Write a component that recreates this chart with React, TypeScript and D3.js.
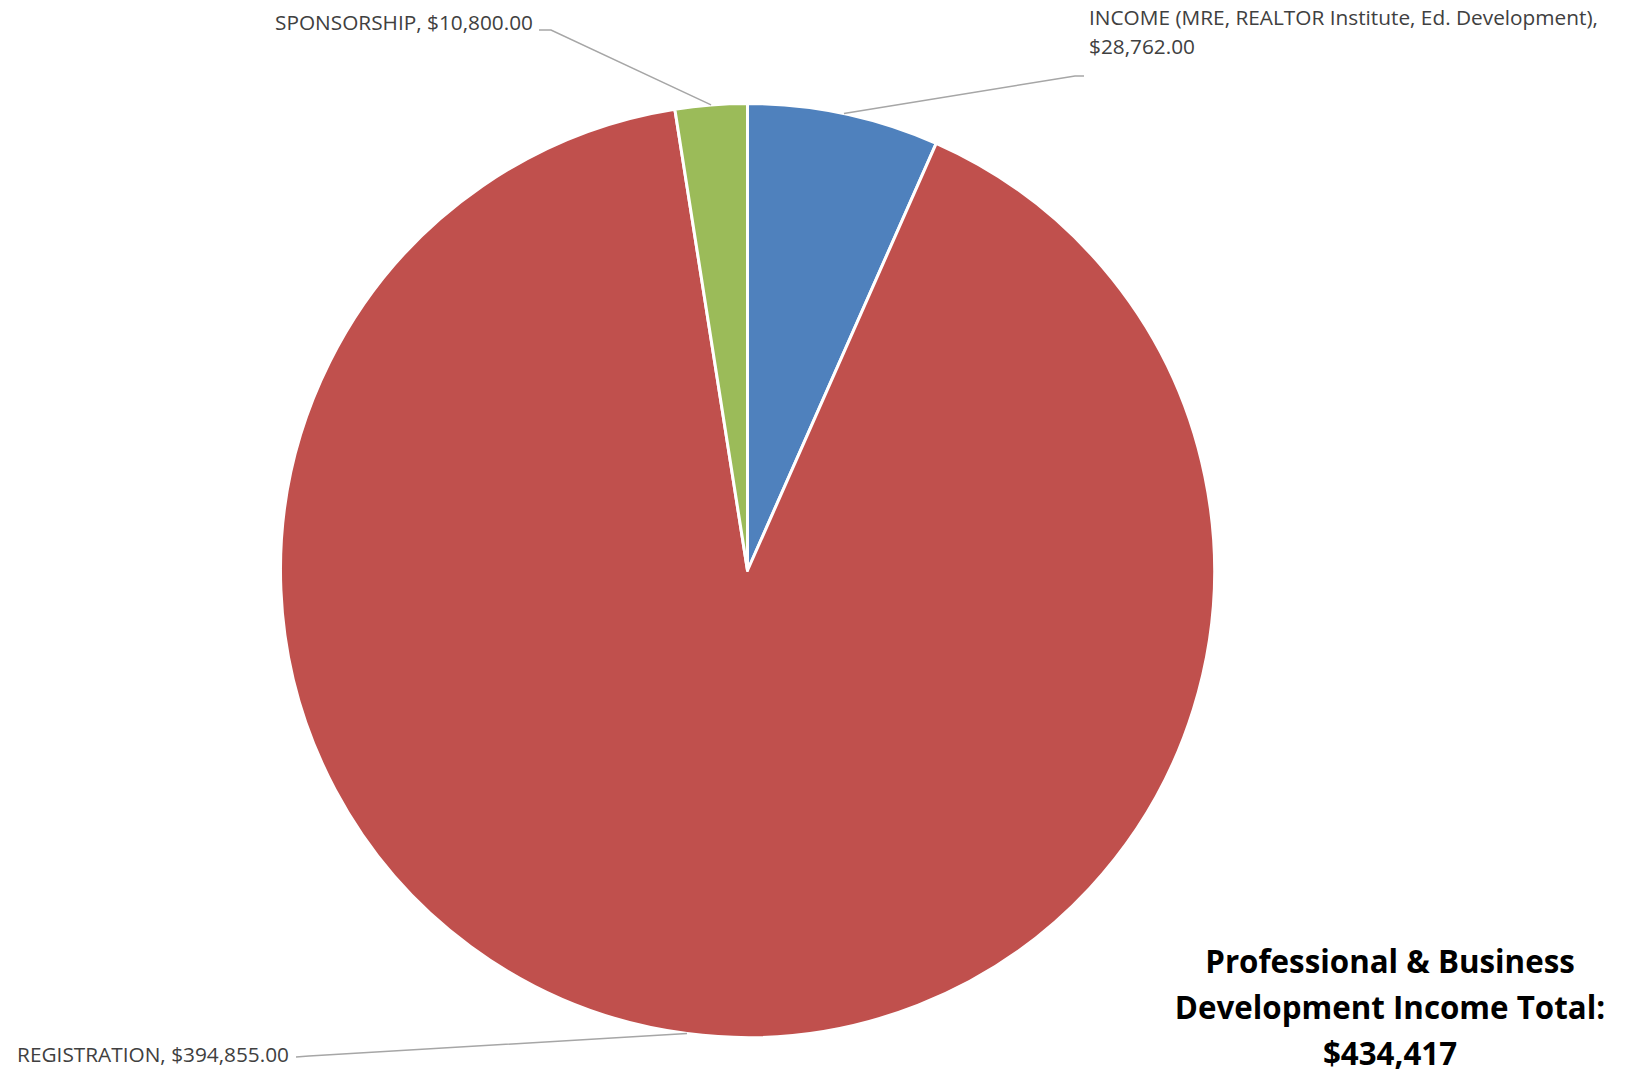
import React from "react";
import * as d3 from "d3";

const categories = ["INCOME (MRE, REALTOR Institute, Ed. Development)", "REGISTRATION", "SPONSORSHIP"];
const values = [28762, 394855, 10800];
const colors = ["#4F81BD", "#C0504D", "#9BBB59"];
const titleLines = ["Professional & Business", "Development Income Total:", "$434,417"];

const W = 1631;
const H = 1073;
const cx = 747.5;
const cy = 570.5;
const R = 467;

const labelLayout = [
  { x: 1089, y: 25, lines: 2, elbow: [1075, 76], end: [1084, 76], anchor: "start" },
  { x: 289, y: 1062, lines: 1, elbow: [309, 1056], end: [296, 1057], anchor: "end" },
  { x: 533, y: 30, lines: 1, elbow: [551, 30], end: [539, 30], anchor: "end" },
];

const fmt = (v: number) => "$" + d3.format(",.2f")(v);

export default function App() {
  const pie = d3.pie<number>().sort(null).value((d) => d);
  const arcs = pie(values);
  const arc = d3.arc<d3.PieArcDatum<number>>().innerRadius(0).outerRadius(R);
  const labelFont = "'Open Sans', sans-serif";
  const fs = 20.8;

  return (
    <svg width={W} height={H} style={{ position: "absolute", left: 0, top: 0, background: "#fff" }}>
      <g transform={`translate(${cx},${cy})`}>
        {arcs.map((a, i) => (
          <path key={i} d={arc(a) || ""} fill={colors[i]} stroke="#fff" strokeWidth={3} strokeLinejoin="round" />
        ))}
      </g>
      {arcs.map((a, i) => {
        const mid = (a.startAngle + a.endAngle) / 2;
        const px = cx + R * Math.sin(mid);
        const py = cy - R * Math.cos(mid);
        const L = labelLayout[i];
        const text = categories[i] + ", " + fmt(values[i]);
        return (
          <g key={"l" + i}>
            <polyline
              points={`${px},${py} ${L.elbow[0]},${L.elbow[1]} ${L.end[0]},${L.end[1]}`}
              fill="none"
              stroke="#A6A6A6"
              strokeWidth={1.5}
            />
            {L.lines === 2 ? (
              <text x={L.x} y={L.y} fontFamily={labelFont} fontSize={fs} fill="#404040" textAnchor={L.anchor}>
                <tspan x={L.x} dy={0}>{categories[i] + ","}</tspan>
                <tspan x={L.x} dy={29}>{fmt(values[i])}</tspan>
              </text>
            ) : (
              <text x={L.x} y={L.y} fontFamily={labelFont} fontSize={fs} fill="#404040" textAnchor={L.anchor}>
                {text}
              </text>
            )}
          </g>
        );
      })}
      <text x={1390} y={973} fontFamily={labelFont} fontWeight="bold" fontSize={31.3} fill="#000" textAnchor="middle">
        {titleLines.map((t, i) => (
          <tspan key={i} x={1390} dy={i === 0 ? 0 : 46}>{t}</tspan>
        ))}
      </text>
    </svg>
  );
}
